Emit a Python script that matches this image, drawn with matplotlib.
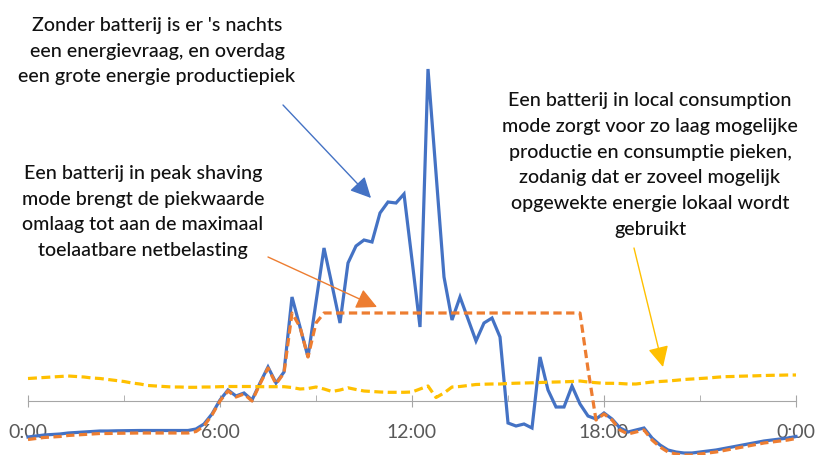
import numpy as np
import matplotlib.pyplot as plt

# kwartierwaarden over een dag (0:00 - 24:00)
hours = np.arange(0, 24.25, 0.25)

# zonder batterij
zonder_batterij = [
    -3.6, -3.5, -3.4, -3.35, -3.3, -3.2, -3.15, -3.1, -3.05, -3.0, -3.0, -2.98,
    -2.97, -2.96, -2.95, -2.95, -2.95, -2.95, -2.95, -2.95, -2.95, -2.8, -2.3, -1.3,
    0.1, 1.1, 0.5, 0.8, 0.1, 1.8, 3.4, 1.8, 2.9, 10.4, 7.4, 4.4,
    9.9, 15.3, 11.6, 7.8, 13.8, 15.5, 16.1, 15.9, 18.8, 19.9, 19.8, 20.7,
    14.1, 7.4, 33.2, 22.8, 12.4, 8.1, 10.4, 8.2, 6.0, 7.8, 8.3, 6.4,
    -2.2, -2.5, -2.3, -2.7, 4.4, 1.1, -0.6, -0.6, 1.5, -0.3, -1.5, -1.8,
    -1.2, -1.8, -2.7, -3.1, -2.9, -2.7, -3.7, -4.4, -4.9, -5.1, -5.2, -5.2,
    -5.1, -5.0, -4.9, -4.75, -4.6, -4.45, -4.3, -4.15, -4.0, -3.9, -3.8, -3.7,
    -3.55,
]

# batterij in peak shaving mode
peak_shaving = [
    -3.85, -3.75, -3.65, -3.6, -3.55, -3.45, -3.4, -3.35, -3.3, -3.25, -3.25, -3.23,
    -3.22, -3.21, -3.2, -3.2, -3.2, -3.2, -3.2, -3.2, -3.2, -3.05, -2.5, -1.4,
    0.0, 1.0, 0.4, 0.7, 0.0, 1.7, 3.3, 1.7, 2.8, 8.8, 7.4, 4.4,
    7.8, 8.8, 8.8, 8.8, 8.8, 8.8, 8.8, 8.8, 8.8, 8.8, 8.8, 8.8,
    8.8, 8.8, 8.8, 8.8, 8.8, 8.8, 8.8, 8.8, 8.8, 8.8, 8.8, 8.8,
    8.8, 8.8, 8.8, 8.8, 8.8, 8.8, 8.8, 8.8, 8.8, 8.8, 3.2, -1.9,
    -1.3, -1.9, -2.9, -3.3, -3.1, -2.9, -3.9, -4.6, -5.1, -5.3, -5.4, -5.4,
    -5.3, -5.2, -5.1, -4.95, -4.8, -4.65, -4.5, -4.35, -4.2, -4.1, -4.0, -3.9,
    -3.75,
]

# batterij in local consumption mode
local_consumption = [
    2.25, 2.3, 2.35, 2.4, 2.45, 2.5, 2.45, 2.4, 2.3, 2.25, 2.15, 2.05,
    1.95, 1.8, 1.7, 1.55, 1.5, 1.45, 1.4, 1.4, 1.37, 1.37, 1.4, 1.4,
    1.43, 1.45, 1.45, 1.45, 1.45, 1.43, 1.43, 1.43, 1.43, 1.35, 1.2, 1.25,
    1.4, 1.2, 0.95, 1.1, 1.32, 1.15, 1.0, 0.95, 0.9, 0.87, 0.87, 0.87,
    0.9, 1.2, 1.5, 0.35, 0.8, 1.4, 1.45, 1.55, 1.65, 1.68, 1.7, 1.7,
    1.75, 1.78, 1.8, 1.82, 1.85, 1.88, 1.9, 1.92, 1.95, 2.0, 1.9, 1.83,
    1.77, 1.77, 1.75, 1.7, 1.7, 1.8, 1.9, 1.95, 2.0, 2.07, 2.15, 2.2,
    2.25, 2.3, 2.37, 2.43, 2.45, 2.48, 2.5, 2.52, 2.55, 2.57, 2.58, 2.6,
    2.6,
]

tick_hours = [0, 6, 12, 18, 24]
tick_labels = ['0:00', '6:00', '12:00', '18:00', '0:00']
minor_hours = [3, 9, 15, 21]

blue = '#4472C4'
orange = '#ED7D31'
yellow = '#FFC000'

plt.rcParams['font.family'] = ['Lato', 'DejaVu Sans']

fig = plt.figure(figsize=(8.17, 4.55), dpi=100)
ax = fig.add_axes([0, 0, 1, 1])
ax.set_xlim(-0.875, 24.656)
ax.set_ylim(-5.4, 40.1)

ax.plot(hours, zonder_batterij, color=blue, lw=2.3, zorder=3, solid_joinstyle='miter')
ax.plot(hours, peak_shaving, color=orange, lw=2.3, dashes=(2.6, 1.4), zorder=4)
ax.plot(hours, local_consumption, color=yellow, lw=2.3, dashes=(2.8, 1.4), zorder=4)

for side in ['left', 'right', 'top']:
    ax.spines[side].set_visible(False)
ax.spines['bottom'].set_position(('data', 0))
ax.spines['bottom'].set_bounds(0, 24)
ax.spines['bottom'].set_color('#A6A6A6')
ax.spines['bottom'].set_zorder(1)
ax.set_yticks([])
ax.set_xticks(tick_hours, tick_labels)
ax.set_xticks(minor_hours, minor=True)
ax.tick_params(axis='x', which='major', direction='inout', length=9, color='#A6A6A6',
               labelsize=14, labelcolor='#595959', pad=12)
ax.tick_params(axis='x', which='minor', direction='in', length=4, color='#A6A6A6')

txt = dict(ha='center', va='center', fontsize=14.1, fontweight='medium',
           color='#111111', linespacing=1.62)
fig.text(157 / 817, 1 - 51 / 455,
         "Zonder batterij is er 's nachts\neen energievraag, en overdag\neen grote energie productiepiek",
         **txt)
fig.text(143 / 817, 1 - 212 / 455,
         "Een batterij in peak shaving\nmode brengt de piekwaarde\nomlaag tot aan de maximaal\ntoelaatbare netbelasting",
         **txt)
fig.text(650 / 817, 1 - 165 / 455,
         "Een batterij in local consumption\nmode zorgt voor zo laag mogelijke\nproductie en consumptie pieken,\n"
         "zodanig dat er zoveel mogelijk\nopgewekte energie lokaal wordt\ngebruikt",
         **txt)

def pijl(start, tip, line_color, head_color):
    ax.annotate('', xy=(tip[0], 455 - tip[1]), xycoords='figure pixels',
                xytext=(start[0], 455 - start[1]), textcoords='figure pixels',
                arrowprops=dict(arrowstyle='-|>,head_length=0.9,head_width=0.45', lw=1.0,
                                color=line_color, fc=head_color, ec=head_color,
                                mutation_scale=14, shrinkA=0, shrinkB=0))

pijl((283, 105), (371, 198), '#5B7FC7', blue)
pijl((268, 257), (377, 307), '#F4A582', orange)
pijl((634, 248), (663, 367), yellow, yellow)

fig.savefig('out.png', dpi=100)
